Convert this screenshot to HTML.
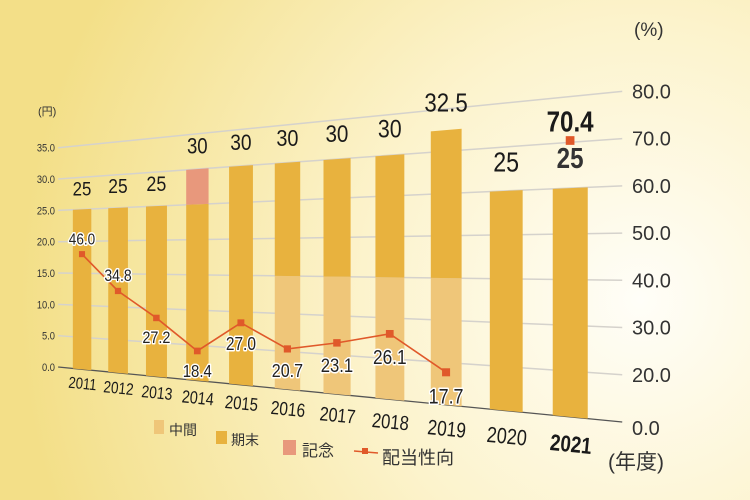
<!DOCTYPE html>
<html><head><meta charset="utf-8"><style>
html,body{margin:0;padding:0;width:750px;height:500px;overflow:hidden}
svg{display:block;font-family:"Liberation Sans","Noto Sans CJK JP",sans-serif}
</style></head><body>
<svg id="chart" width="750" height="500" viewBox="0 0 750 500" xmlns="http://www.w3.org/2000/svg">
<defs>
<radialGradient id="bg" cx="640" cy="300" r="620" gradientUnits="userSpaceOnUse">
<stop offset="0" stop-color="#FFFEF8"/><stop offset="0.45" stop-color="#FCF3CC"/><stop offset="1" stop-color="#F3DF88"/>
</radialGradient>
</defs>
<rect x="0" y="0" width="750" height="500" fill="url(#bg)"/>
<g id="grid"></g><g id="bars"></g><g id="line"></g><g id="labels"></g>
<text x="38" y="115" font-size="11" fill="#333">(円)</text>
<text x="634" y="36" font-size="19" fill="#333">(%)</text>
<text x="608" y="469" font-size="21" fill="#333">(年度)</text>
<g font-size="14" fill="#333">
<rect x="154" y="420" width="10" height="14" fill="#EFC679"/>
<text x="169" y="435">中間</text>
<rect x="216" y="431" width="11" height="13" fill="#E8B23E"/>
<text x="231" y="445">期末</text>
<rect x="283" y="440" width="13" height="15" fill="#E8987C"/>
<text x="302" y="456" font-size="16">記念</text>
<line x1="354" y1="451" x2="378" y2="453" stroke="#E0592A" stroke-width="1.6"/>
<rect x="362" y="448" width="6" height="6" fill="#E0592A"/>
<text x="382" y="464" font-size="18">配当性向</text>
</g>
</svg>
<script>
const years=['2011','2012','2013','2014','2015','2016','2017','2018','2019','2020','2021'];
const interim=[0,0,0,0,0,15,15,15,15,0,0];
const finalDiv=[25,25,25,25,30,15,15,15,17.5,25,25];
const commem=[0,0,0,5,0,0,0,0,0,0,0];
const totalLabels=['25','25','25','30','30','30','30','30','32.5','25','25'];
const payout=[46.0,34.8,27.2,18.4,27.0,20.7,23.1,26.1,17.7,null,70.4];
const payoutAbove=[true,true,false,false,false,false,false,false,false,false,true];
const leftTicks=[0,5,10,15,20,25,30,35];
const rightTicks=[0,20,30,40,50,60,70,80];

const NS='http://www.w3.org/2000/svg';
const r=1.066;
function X(t){return 82+36*(Math.pow(r,t)-1)/(r-1);}
function yb(x){return 367+0.0975*(x-58);}
function k(x){return 6.4+0.00564*(x-82);}
function P(t,yen){const x=X(t);return [x,yb(x)-k(x)*yen];}
function pctToYen(v){return v<=0?0:(v-10)/2;}
function mk(tag,attrs,parent){const e=document.createElementNS(NS,tag);for(const a in attrs)e.setAttribute(a,attrs[a]);parent.appendChild(e);return e;}
const grid=document.getElementById('grid'),bars=document.getElementById('bars'),line=document.getElementById('line'),labels=document.getElementById('labels');
const tL=-0.70,tR=10.77;

leftTicks.forEach((v,i)=>{
  const a=P(tL,v),b=P(tR,v);
  const g=mk('line',{x1:a[0],y1:a[1],x2:b[0],y2:b[1],stroke:v===0?'#555':'#D5D2CC','stroke-width':v===0?1.3:1.5},grid);
  
  
  const t=mk('text',{x:0,y:0,'font-size':11,fill:'#333','text-anchor':'end',transform:`translate(55,${a[1]+4}) scale(0.85,1)`},labels);
  t.textContent=v.toFixed(1);
  
  
});
rightTicks.forEach(v=>{
  const p=P(tR,pctToYen(v));
  const t=mk('text',{x:632,y:p[1]+(v===0?13:7),'font-size':20,fill:'#333'},labels);
  t.textContent=v.toFixed(1);
  
  
});

function barSeg(i,y0,y1,color,name){
  if(y1<=y0)return;
  const a=P(i-0.265,y0),b=P(i+0.265,y0),c=P(i+0.265,y1),d=P(i-0.265,y1);
  const p=mk('polygon',{points:[a,b,c,d].map(q=>q.join(',')).join(' '),fill:color},bars);
  
  
}
years.forEach((y,i)=>{
  barSeg(i,0,interim[i],'#EFC679','bar-interim-'+y);
  barSeg(i,interim[i],interim[i]+finalDiv[i],'#E8B23E','bar-final-'+y);
  const top=interim[i]+finalDiv[i]+commem[i];
  barSeg(i,interim[i]+finalDiv[i],top,'#E8987C','bar-commemorative-'+y);
  const x=X(i),kk=k(x);
  const pt=P(i,top);
  const last=i===years.length-1;
  const tl=mk('text',{x:0,y:0,'font-size':(3.1*kk).toFixed(1),fill:last?'#333':'#1a1a1a','text-anchor':'middle','font-weight':last?'bold':'normal',transform:`translate(${x},${pt[1]-2.2*kk}) scale(0.85,1)`},labels);
  tl.textContent=totalLabels[i];
  
  
  const fs=2.5*kk;
  const cy=yb(x)+14+(x-82)*0.0266;
  const yl=mk('text',{x:0,y:0,'font-size':fs.toFixed(1),fill:'#1a1a1a','text-anchor':'middle','font-weight':last?'bold':'normal',transform:`translate(${x},${cy+0.35*fs}) rotate(5.6) scale(0.82,1)`},labels);
  yl.textContent=y;
  
  
});

let pts=[];
payout.forEach((v,i)=>{
  if(v===null){pts.push(null);return;}
  pts.push(P(i,pctToYen(v)));
});
let seg=[];
for(let i=0;i<9;i++){if(pts[i])seg.push(pts[i].join(','));}
const pl=mk('polyline',{points:seg.join(' '),fill:'none',stroke:'#E0592A','stroke-width':1.6},line);


payout.forEach((v,i)=>{
  if(v===null)return;
  const p=pts[i],kk=k(p[0]),s=0.95*kk;
  const m=mk('rect',{x:p[0]-s/2,y:p[1]-s/2,width:s,height:s,fill:'#E0592A'},line);
  
  
  const last=i===years.length-1;
  const fs=last?3.1*kk:2.5*kk;
  const cy=payoutAbove[i]?p[1]-(last?2.1:2.4)*kk:p[1]+2.8*kk;
  const t=mk('text',{x:0,y:0,'font-size':fs.toFixed(1),fill:last?'#1a1a1a':'#222','text-anchor':'middle','font-weight':last?'bold':'normal',stroke:last?'none':'#fff','stroke-width':3,'paint-order':'stroke','stroke-linejoin':'round',transform:`translate(${p[0]},${cy+0.36*fs}) scale(0.85,1)`},labels);
  t.textContent=v.toFixed(1);
  
  
});
</script>
</body></html>
